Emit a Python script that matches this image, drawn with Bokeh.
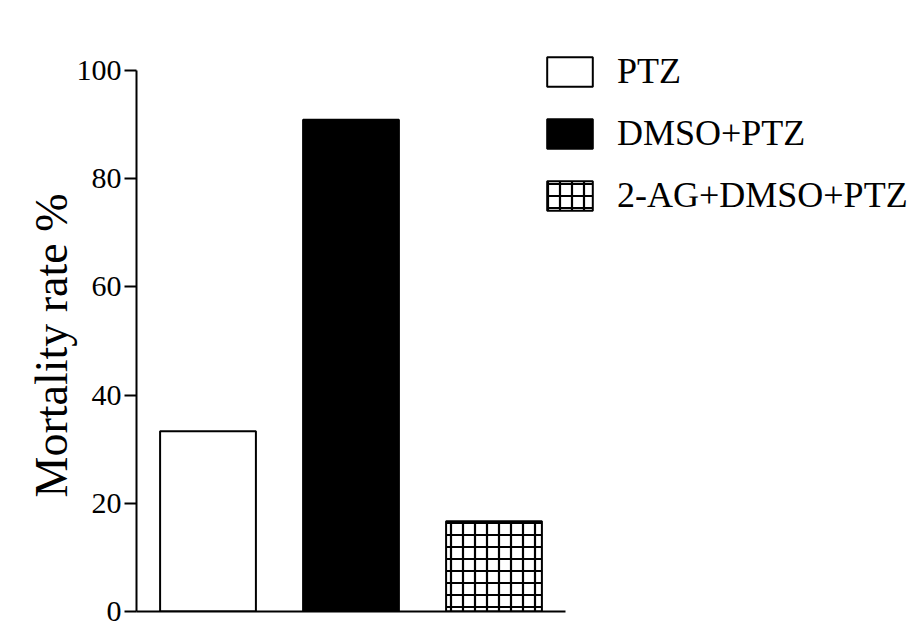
from bokeh.plotting import figure
from bokeh.models import Range1d, Legend, LegendItem, FixedTicker, Title
from bokeh.embed import file_html
from bokeh.resources import INLINE

groups = ["PTZ", "DMSO+PTZ", "2-AG+DMSO+PTZ"]
mortality = [33.3, 90.9, 16.7]
y_ticks = [0, 20, 40, 60, 80, 100]
y_label = "Mortality rate %"

FONT = "Liberation Serif"

W, H = 908, 632
LEFT, BOTTOM = 136, 21
FRAME_TOP = 20           # frame top in px (extra room for the legend)
Y_TOP_PX = 70            # pixel where y=100 sits
UNIT_PX = 143.0          # pixel width of one category slot
n = len(groups)
x_end = (W - LEFT) / UNIT_PX
px_per_y = (H - BOTTOM - Y_TOP_PX) / 100.0
y_end = 100 + (Y_TOP_PX - FRAME_TOP) / px_per_y

p = figure(width=W, height=H, output_backend="svg", toolbar_location=None,
           x_range=Range1d(0, x_end), y_range=Range1d(0, y_end),
           min_border_left=LEFT, min_border_right=0, min_border_top=FRAME_TOP,
           min_border_bottom=BOTTOM)
p.outline_line_color = None
p.grid.visible = False
p.background_fill_color = "white"

styles = [
    dict(fill_color="white"),
    dict(fill_color="black"),
    dict(fill_color="white", hatch_pattern="+", hatch_color="black", hatch_weight=2.2, hatch_scale=12),
]
items = []
for i, (g, v, st) in enumerate(zip(groups, mortality, styles)):
    r = p.vbar(x=[i + 0.5], top=[v], width=0.67, line_color="black", line_width=2, **st)
    items.append(LegendItem(label=g, renderers=[r]))

legend = Legend(items=items, location=(405, 395), glyph_width=57, glyph_height=37,
                spacing=20, label_text_font=FONT, label_text_font_size="36px",
                label_text_color="black",
                label_standoff=19, border_line_color=None, background_fill_alpha=0,
                padding=10, margin=0, label_height=30)
p.add_layout(legend, "center")

p.xaxis.ticker = FixedTicker(ticks=[])
p.xaxis.bounds = (0, n)
p.xaxis.major_tick_line_color = None
p.xaxis.minor_tick_line_color = None
p.xaxis.axis_line_width = 2
p.xaxis.axis_line_color = "black"

p.yaxis.ticker = FixedTicker(ticks=y_ticks)
p.yaxis.bounds = (0, 100)
p.yaxis.axis_line_width = 2
p.yaxis.axis_line_color = "black"
p.yaxis.major_tick_line_width = 2
p.yaxis.major_tick_out = 12
p.yaxis.major_tick_in = 0
p.yaxis.minor_tick_line_color = None
p.yaxis.major_label_text_font = FONT
p.yaxis.major_label_text_font_size = "30px"
p.yaxis.major_label_text_color = "black"
p.yaxis.major_label_standoff = 3

# y label as a left-side title so it can be centred on the 0-100 span
label_bottom_px = 497
ylab = Title(text=y_label, align="left", offset=(H - BOTTOM) - label_bottom_px,
             text_font=FONT, text_font_size="46px", text_font_style="normal",
             text_color="black", standoff=-6)
p.add_layout(ylab, "left")

open("out.html", "w").write(file_html(p, INLINE))
